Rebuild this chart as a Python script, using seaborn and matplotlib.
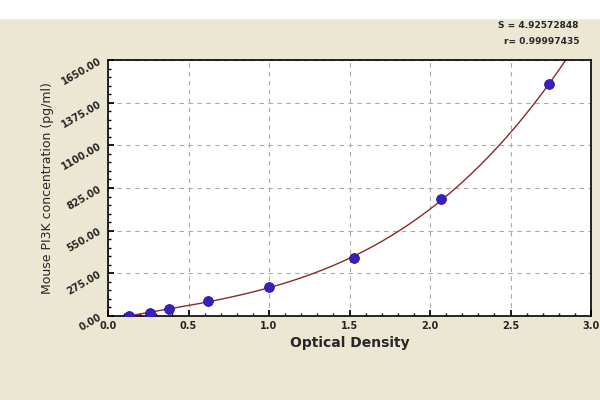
import numpy as np
import matplotlib
matplotlib.use("Agg")
import matplotlib.pyplot as plt
import seaborn as sns
from matplotlib.ticker import AutoMinorLocator
from matplotlib.patches import Rectangle

od = [0.13, 0.26, 0.38, 0.62, 1.0, 1.53, 2.07, 2.74]
conc = [0, 20, 48, 95, 185, 375, 755, 1495]
xticks = [0.0, 0.5, 1.0, 1.5, 2.0, 2.5, 3.0]
yticks = [0, 275, 550, 825, 1100, 1375, 1650]

sns.set_theme(style="white")
plt.rcParams['font.family'] = ['DejaVu Sans']
fig = plt.figure(figsize=(6, 4), dpi=100, facecolor="#ebe7d3")
fig.patches.append(Rectangle((0, 0.955), 1, 0.045, transform=fig.transFigure, color="white", zorder=0))
ax = fig.add_axes([0.18, 0.21, 0.805, 0.64])
ax.set_facecolor("white")

coef = np.polyfit(od, conc, 3)
xs = np.linspace(0.13, 2.86, 200)
ax.plot(xs, np.polyval(coef, xs), color="#8b2a2a", lw=1)
sns.scatterplot(x=od, y=conc, ax=ax, color="#3a1fc0", s=50, edgecolor="#2a1590", zorder=3)

ax.set_xlim(0, 3.0)
ax.set_ylim(0, 1650)
ax.set_xticks(xticks)
ax.set_xticklabels([f"{v:.1f}" for v in xticks], fontsize=7, fontweight="bold")
ax.set_yticks(yticks)
ax.set_yticklabels([f"{v:.2f}" for v in yticks], fontsize=7, rotation=30, fontweight="bold")
ax.xaxis.set_minor_locator(AutoMinorLocator(5))
ax.yaxis.set_minor_locator(AutoMinorLocator(5))
ax.tick_params(which="both", direction="in", bottom=True, left=True, length=4, color="black")
ax.tick_params(which="minor", length=2)
ax.grid(True, which="major", linestyle=(0, (4, 4)), color="#aaaaaa", lw=0.8)
for s in ax.spines.values():
    s.set_color("black"); s.set_linewidth(1.2)
ax.set_xlabel("Optical Density", fontsize=10, fontweight="bold")
ax.set_ylabel("Mouse PI3K concentration (pg/ml)", fontsize=9)
fig.text(0.965, 0.935, "S = 4.92572848", fontsize=6.5, ha="right", va="center", fontweight="bold")
fig.text(0.965, 0.895, "r= 0.99997435", fontsize=6.5, ha="right", va="center", fontweight="bold")
fig.savefig("out.png", dpi=100, facecolor=fig.get_facecolor())
